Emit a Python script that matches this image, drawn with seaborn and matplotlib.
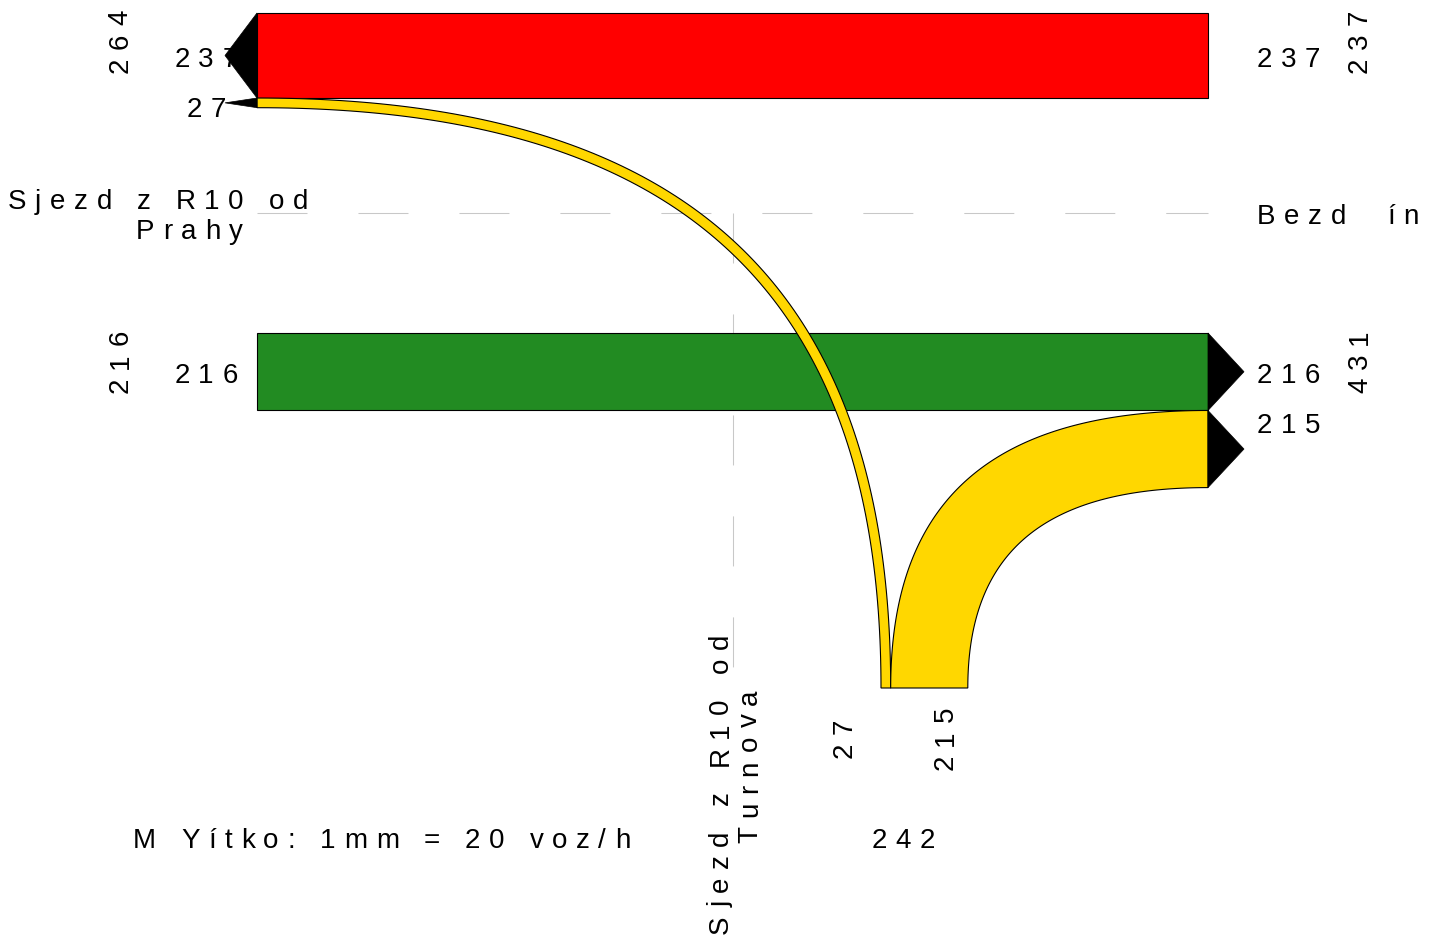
import numpy as np
import pandas as pd
import matplotlib
matplotlib.use("Agg")
import matplotlib.pyplot as plt
import seaborn as sns
from matplotlib.patches import Polygon

# ---------------- data ----------------
APPROACHES = ["Praha", "Bezdín", "Turnov"]
FLOW_FROM = ["Bezdín", "Turnov", "Praha", "Turnov"]
FLOW_TO = ["Praha", "Praha", "Bezdín", "Bezdín"]
FLOW_VALUES = [237, 27, 216, 215]
FLOW_COLORS = ["#FF0000", "#FFD700", "#228B22", "#FFD700"]
NAME_PRAHA = ["Sjezd z R10 od", "Prahy"]
NAME_BEZDIN = "Bezd  ín"
NAME_TURNOV = ["Sjezd z R10 od", "Turnova"]
SCALE_TEXT = "M Yítko: 1mm = 20 voz/h"

# ---------------- layout (pixels) ----------------
W, H, DPI = 1442, 940, 100
PX_PER_VEH = 0.3587
K = 0.68
# approach: (axis of port line, coordinate, inward direction)
GEOM = {"Praha": ("x", 257.0, +1), "Bezdín": ("x", 1208.0, -1), "Turnov": ("y", 688.0, -1)}
STACK_START = {("Praha", "out"): 13.0, ("Praha", "in"): 333.0,
               ("Bezdín", "in"): 13.0, ("Bezdín", "out"): 333.0,
               ("Turnov", "in"): 881.0, ("Turnov", "out"): 0.0}
ARROW_LEN = {"Praha": 32, "Bezdín": 36, "Turnov": 34}
FS = 20
FS_PX = FS * DPI / 72.0
LS = 8.6
GUIDE_COLOR = "#c8c8c8"

sns.set_theme(style="white")
plt.rcParams["font.family"] = ["Liberation Sans", "DejaVu Sans"]
plt.rcParams["lines.scale_dashes"] = False

fig = plt.figure(figsize=(W / DPI, H / DPI), dpi=DPI)
ax = fig.add_axes([0, 0, 1, 1])

# guide dashed lines
hg = pd.DataFrame({"x": [257.0, 1208.0], "y": [213.0, 213.0]})
vg = pd.DataFrame({"x": [733.0, 733.0], "y": [213.0, 688.0]})
for g in (hg, vg):
    sns.lineplot(data=g, x="x", y="y", ax=ax, color=GUIDE_COLOR, linewidth=0.75,
                 linestyle=(0, (36, 36.7)), estimator=None, sort=False, legend=False, zorder=1)

ax.set_xlim(0, W)
ax.set_ylim(H, 0)
ax.axis("off")

# ---------------- geometry helpers ----------------
def port_pt(app, s):
    axis, c, _ = GEOM[app]
    return np.array([c, s]) if axis == "x" else np.array([s, c])

def normal(app):
    axis, c, d = GEOM[app]
    return np.array([float(d), 0.0]) if axis == "x" else np.array([0.0, float(d)])

def bez(p0, p1, p2, p3, n=120):
    t = np.linspace(0, 1, n)[:, None]
    return (1 - t) ** 3 * p0 + 3 * (1 - t) ** 2 * t * p1 + 3 * (1 - t) * t ** 2 * p2 + t ** 3 * p3

def edge(src, s0, dst, s1):
    P0 = port_pt(src, s0)
    P3 = port_pt(dst, s1)
    n0, n3 = normal(src), normal(dst)
    D0 = abs(np.dot(P3 - P0, n0))
    D3 = abs(np.dot(P0 - P3, n3))
    return bez(P0, P0 + n0 * K * D0, P3 + n3 * K * D3, P3)

# slot assignment
cursor = dict(STACK_START)
slots = {}
stack_members = {}
for i, (f, t, v) in enumerate(zip(FLOW_FROM, FLOW_TO, FLOW_VALUES)):
    w = v * PX_PER_VEH
    a = cursor[(f, "in")]
    slots[(i, "src")] = (a, a + w)
    cursor[(f, "in")] = a + w
    stack_members.setdefault((f, "in"), []).append(i)
    a = cursor[(t, "out")]
    slots[(i, "dst")] = (a, a + w)
    cursor[(t, "out")] = a + w
    stack_members.setdefault((t, "out"), []).append(i)

# ---------------- bands ----------------
for i, (f, t, col) in enumerate(zip(FLOW_FROM, FLOW_TO, FLOW_COLORS)):
    a0, b0 = slots[(i, "src")]
    a1, b1 = slots[(i, "dst")]
    if GEOM[f][0] == GEOM[t][0]:
        pairs = [(a0, a1), (b0, b1)]
        z = 2
    else:
        c_src = GEOM[t][1]
        c_dst = GEOM[f][1]
        in0, out0 = (a0, b0) if abs(a0 - c_src) < abs(b0 - c_src) else (b0, a0)
        in1, out1 = (a1, b1) if abs(a1 - c_dst) < abs(b1 - c_dst) else (b1, a1)
        pairs = [(out0, out1), (in0, in1)]
        z = 3
    e1 = edge(f, pairs[0][0], t, pairs[0][1])
    e2 = edge(f, pairs[1][0], t, pairs[1][1])
    poly = np.vstack([e1, e2[::-1]])
    ax.add_patch(Polygon(poly, closed=True, facecolor=col, edgecolor="black", linewidth=0.8, zorder=z))

# arrows at exits
for i, t in enumerate(FLOW_TO):
    a, b = slots[(i, "dst")]
    n = normal(t)
    tip = port_pt(t, (a + b) / 2) - n * ARROW_LEN[t]
    ax.add_patch(Polygon([port_pt(t, a), tip, port_pt(t, b)], closed=True,
                         facecolor="black", edgecolor="black", linewidth=0.5, zorder=6))

# ---------------- letter-spaced text ----------------
WID = {" ": 278, ":": 278, "=": 584, "/": 278, "B": 667, "M": 833, "P": 667, "R": 722,
       "S": 667, "T": 611, "Y": 667, "a": 556, "d": 556, "e": 556, "h": 556, "í": 278,
       "i": 222, "j": 222, "k": 500, "m": 833, "n": 556, "o": 556, "r": 333, "t": 278,
       "u": 556, "v": 500, "y": 500, "z": 500}

def adv(c):
    return WID.get(c, 556) / 1000.0 * FS_PX

def text_len(s):
    return sum(adv(c) for c in s) + LS * (len(s) - 1)

def spaced(x, y, s, rot=0, align="left"):
    d = np.array([1.0, 0.0]) if rot == 0 else np.array([0.0, -1.0])
    off = 0.0
    if align == "center":
        off = -text_len(s) / 2
    pos = off
    for c in s:
        if c != " ":
            p = np.array([x, y]) + d * pos
            ax.text(p[0], p[1], c, rotation=rot, rotation_mode="anchor", ha="left",
                    va="baseline", fontsize=FS, color="black", zorder=5)
        pos += adv(c) + LS

def fmt(v):
    return str(int(round(v)))

# slot labels on left / right approaches
for app, xpos, align in (("Praha", 206, "center"), ("Bezdín", 1257, "left")):
    for kind in ("out", "in"):
        members = stack_members.get((app, kind), [])
        role = "dst" if kind == "out" else "src"
        for j, i in enumerate(members):
            if j == 0:
                a, b = slots[(i, role)]
                base = (a + b) / 2 + 11.5
            else:
                base += 50
            spaced(xpos, base, fmt(FLOW_VALUES[i]), 0, align)
        if members:
            tot = sum(FLOW_VALUES[i] for i in members)
            xb = 127.5 if app == "Praha" else 1367
            spaced(xb, STACK_START[(app, kind)] + 28, fmt(tot), 90, "center")

# bottom approach labels
members = stack_members[("Turnov", "in")]
for j, i in enumerate(members):
    spaced(852 + 101 * j, 738, fmt(FLOW_VALUES[i]), 90, "center")
tot = sum(FLOW_VALUES[i] for i in members)
spaced(STACK_START[("Turnov", "in")] + 22, 848, fmt(tot), 0, "center")

# approach names
spaced(8, 209, NAME_PRAHA[0])
spaced(136, 239, NAME_PRAHA[1])
spaced(1257, 224, NAME_BEZDIN)
spaced(728, 934, NAME_TURNOV[0], 90)
spaced(757, 843, NAME_TURNOV[1], 90)
spaced(133, 848, SCALE_TEXT)

fig.savefig("out.png", dpi=DPI, facecolor="white")
